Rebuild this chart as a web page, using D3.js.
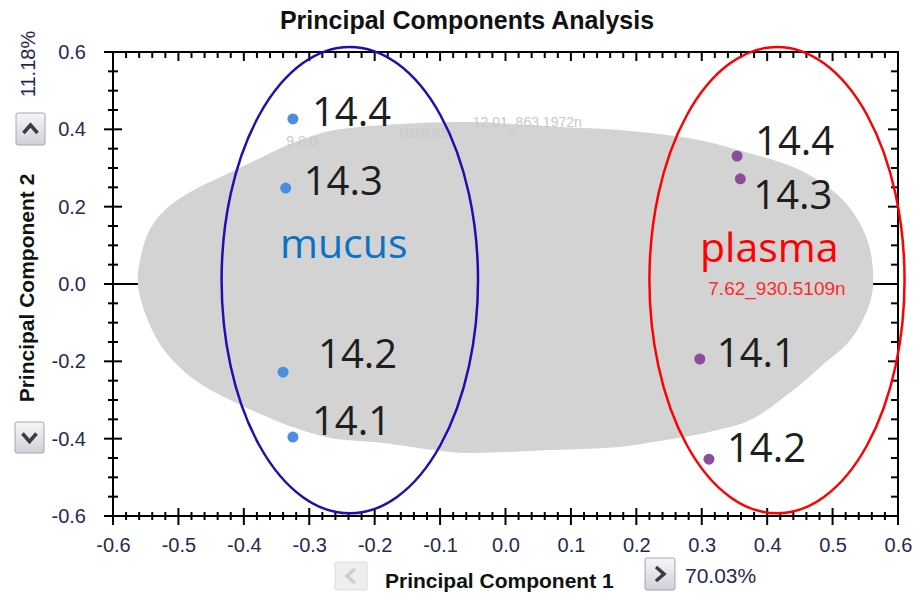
<!DOCTYPE html>
<html>
<head>
<meta charset="utf-8">
<script src="https://cdn.jsdelivr.net/npm/d3@7"></script>
<style>
    body { margin: 0; background: #fff; }
    svg { display: block; font-family: "Liberation Sans", Arial, sans-serif; }
</style>
</head>
<body>
<svg id="chart" width="914" height="596"></svg>
<script>
// sample scores (PC1, PC2)
const mucusLabels = ['14.4', '14.3', '14.2', '14.1'];
const mucusPC1 = [-0.325, -0.336, -0.340, -0.325];
const mucusPC2 = [0.427, 0.248, -0.228, -0.396];

const plasmaLabels = ['14.4', '14.3', '14.1', '14.2'];
const plasmaPC1 = [0.354, 0.359, 0.297, 0.311];
const plasmaPC2 = [0.331, 0.272, -0.194, -0.453];

// outline of the grey cloud of loadings (PC1, PC2)
const cloudPC1 = [-0.562, -0.557, -0.544, -0.521, -0.482, -0.429, -0.375, -0.322, -0.268, -0.161,
    -0.054, 0.083, 0.175, 0.297, 0.354, 0.450, 0.516, 0.553, 0.562, 0.553, 0.527, 0.481, 0.440,
    0.374, 0.323, 0.247, 0.170, 0.068, -0.059, -0.111, -0.187, -0.268, -0.322, -0.375, -0.417,
    -0.456, -0.490, -0.524, -0.547];
const cloudPC2 = [0.000, 0.075, 0.140, 0.191, 0.238, 0.282, 0.326, 0.367, 0.396, 0.414,
    0.419, 0.406, 0.398, 0.372, 0.347, 0.295, 0.217, 0.114, 0.000, -0.067, -0.145, -0.215, -0.274,
    -0.352, -0.378, -0.403, -0.422, -0.429, -0.437, -0.429, -0.411, -0.398, -0.372, -0.336, -0.303,
    -0.269, -0.228, -0.166, -0.093];

// group ellipses: centre and radii in PC units
const groupNames = ['mucus', 'plasma'];
const groupCX = [-0.238, 0.415];
const groupCY = [0.010, 0.010];
const groupRX = [0.196, 0.195];
const groupRY = [0.603, 0.603];

const xTicks = [-0.6, -0.5, -0.4, -0.3, -0.2, -0.1, 0.0, 0.1, 0.2, 0.3, 0.4, 0.5, 0.6];
const yTicks = [-0.6, -0.4, -0.2, 0.0, 0.2, 0.4, 0.6];
const pc1Var = '70.03%';
const pc2Var = '11.18%';

const svg = d3.select('#chart');
const x = d3.scaleLinear().domain([-0.6, 0.6]).range([113, 898]);
const y = d3.scaleLinear().domain([-0.6, 0.6]).range([516, 52]);
const fmt = d => d.toFixed(1);

// zero line (under the cloud)
svg.append('line')
    .attr('x1', x(-0.6)).attr('x2', x(0.6))
    .attr('y1', y(0)).attr('y2', y(0))
    .attr('stroke', '#000').attr('stroke-width', 2);

// cloud
const cloud = cloudPC1.map((d, i) => [d, cloudPC2[i]]);
svg.append('path')
    .attr('d', d3.line().x(d => x(d[0])).y(d => y(d[1])).curve(d3.curveCatmullRomClosed)(cloud))
    .attr('fill', '#d3d3d3');

// faint loading labels along the top of the cloud
const faint = [['12.01_863.1972n', -0.05, 0.405], ['1028.85', -0.165, 0.378], ['9.8.0', -0.335, 0.356]];
svg.selectAll('text.faint')
    .data(faint)
    .enter().append('text')
    .attr('class', 'faint')
    .attr('x', d => x(d[1])).attr('y', d => y(d[2]))
    .attr('fill', '#c9c9c9').attr('font-size', 14)
    .text(d => d[0]);

// frame
svg.append('rect')
    .attr('x', x(-0.6)).attr('y', y(0.6))
    .attr('width', x(0.6) - x(-0.6)).attr('height', y(-0.6) - y(0.6))
    .attr('fill', 'none').attr('stroke', '#000').attr('stroke-width', 2);

const xMinor = d3.range(-60, 61, 2).map(d => d / 100);
const yMinor = d3.range(-60, 61, 5).map(d => d / 100);
const isMajorX = v => Math.abs(Math.round(v * 100)) % 10 === 0;
const isMajorY = v => Math.abs(Math.round(v * 100)) % 20 === 0;

// bottom axis ticks cross the line, top ticks point inward
svg.append('g').selectAll('line')
    .data(xMinor).enter().append('line')
    .attr('x1', d => x(d)).attr('x2', d => x(d))
    .attr('y1', d => y(-0.6) - (isMajorX(d) ? 8 : 4))
    .attr('y2', d => y(-0.6) + (isMajorX(d) ? 9 : 4))
    .attr('stroke', '#000').attr('stroke-width', 2);
svg.append('g').selectAll('line')
    .data(xMinor).enter().append('line')
    .attr('x1', d => x(d)).attr('x2', d => x(d))
    .attr('y1', y(0.6))
    .attr('y2', d => y(0.6) + (isMajorX(d) ? 9 : 6))
    .attr('stroke', '#000').attr('stroke-width', 2);

// left axis ticks cross the line, right ticks point inward
svg.append('g').selectAll('line')
    .data(yMinor).enter().append('line')
    .attr('y1', d => y(d)).attr('y2', d => y(d))
    .attr('x1', d => x(-0.6) - (isMajorY(d) ? 9 : 5))
    .attr('x2', d => x(-0.6) + (isMajorY(d) ? 9 : 5))
    .attr('stroke', '#000').attr('stroke-width', 2);
svg.append('g').selectAll('line')
    .data(yMinor).enter().append('line')
    .attr('y1', d => y(d)).attr('y2', d => y(d))
    .attr('x1', x(0.6))
    .attr('x2', d => x(0.6) - (isMajorY(d) ? 10 : 7))
    .attr('stroke', '#000').attr('stroke-width', 2);

// tick labels through d3 axes
const xAxis = svg.append('g')
    .attr('transform', `translate(0,${y(-0.6)})`)
    .call(d3.axisBottom(x).tickValues(xTicks).tickFormat(fmt).tickSize(0).tickPadding(22));
const yAxis = svg.append('g')
    .attr('transform', `translate(${x(-0.6)},0)`)
    .call(d3.axisLeft(y).tickValues(yTicks).tickFormat(fmt).tickSize(0).tickPadding(27));
[xAxis, yAxis].forEach(g => {
    g.select('.domain').remove();
    g.selectAll('text')
        .attr('font-family', '"Liberation Sans", Arial, sans-serif')
        .attr('font-size', 20).attr('fill', '#1f2a55');
});

// titles
svg.append('text')
    .attr('x', 467).attr('y', 29).attr('text-anchor', 'middle')
    .attr('font-size', 25).attr('font-weight', 'bold').attr('fill', '#111')
    .text('Principal Components Analysis');
svg.append('text')
    .attr('x', 385).attr('y', 588)
    .attr('font-size', 21).attr('font-weight', 'bold').attr('fill', '#111')
    .text('Principal Component 1');
svg.append('text')
    .attr('x', 685).attr('y', 583)
    .attr('font-size', 21).attr('fill', '#1f2a55')
    .text(pc1Var);
svg.append('text')
    .attr('transform', 'translate(34,288) rotate(-90)').attr('text-anchor', 'middle')
    .attr('font-size', 21).attr('font-weight', 'bold').attr('fill', '#111')
    .text('Principal Component 2');
svg.append('text')
    .attr('transform', 'translate(35,64) rotate(-90)').attr('text-anchor', 'middle')
    .attr('font-size', 20).attr('fill', '#1f2a55')
    .text(pc2Var);

// scroll buttons
const defs = svg.append('defs');
const grad = defs.append('linearGradient').attr('id', 'btn').attr('x1', 0).attr('x2', 0).attr('y1', 0).attr('y2', 1);
grad.append('stop').attr('offset', 0).attr('stop-color', '#f6f6f8');
grad.append('stop').attr('offset', 1).attr('stop-color', '#cfd1da');
const buttons = [
    { x: 16, y: 113, w: 29, h: 32, dir: 'up', on: true },
    { x: 15, y: 422, w: 29, h: 31, dir: 'down', on: true },
    { x: 335, y: 562, w: 32, h: 28, dir: 'left', on: false },
    { x: 645, y: 558, w: 30, h: 32, dir: 'right', on: true }
];
const chevrons = {
    up: 'M-7,4 L0,-4 L7,4',
    down: 'M-7,-4 L0,4 L7,-4',
    left: 'M4,-7 L-4,0 L4,7',
    right: 'M-4,-7 L4,0 L-4,7'
};
buttons.forEach(b => {
    svg.append('rect')
        .attr('x', b.x).attr('y', b.y).attr('width', b.w).attr('height', b.h).attr('rx', 2)
        .attr('fill', b.on ? 'url(#btn)' : '#eeeeec')
        .attr('stroke', b.on ? '#a4a6b0' : '#dcdcd8');
    svg.append('path')
        .attr('transform', `translate(${b.x + b.w / 2},${b.y + b.h / 2})`)
        .attr('d', chevrons[b.dir])
        .attr('fill', 'none')
        .attr('stroke', b.on ? '#3c3c3c' : '#cfcfcb')
        .attr('stroke-width', 3.5);
});

// red loading label
svg.append('text')
    .attr('x', x(0.310)).attr('y', y(-0.028))
    .attr('font-size', 19).attr('fill', '#ff2a2a')
    .text('7.62_930.5109n');

// group ellipses
const ellColors = ['#1e0fb0', '#ff0000'];
groupNames.forEach((g, i) => {
    svg.append('ellipse')
        .attr('cx', x(groupCX[i])).attr('cy', y(groupCY[i]))
        .attr('rx', x(groupCX[i] + groupRX[i]) - x(groupCX[i]))
        .attr('ry', y(groupCY[i] - groupRY[i]) - y(groupCY[i]))
        .attr('fill', 'none').attr('stroke', ellColors[i]).attr('stroke-width', 2.5);
});

// sample points
function drawGroup(labels, pc1, pc2, color, offsets) {
    const data = labels.map((l, i) => ({ label: l, pc1: pc1[i], pc2: pc2[i], off: offsets[i] }));
    svg.append('g').selectAll('circle')
        .data(data).enter().append('circle')
        .attr('cx', d => x(d.pc1)).attr('cy', d => y(d.pc2))
        .attr('r', 5.5).attr('fill', color);
    svg.append('g').selectAll('text')
        .data(data).enter().append('text')
        .attr('x', d => x(d.pc1) + d.off[0]).attr('y', d => y(d.pc2) + d.off[1])
        .attr('font-family', '"Open Sans", sans-serif')
        .attr('font-size', 40).attr('fill', '#1e1e1e')
        .text(d => d.label);
}
drawGroup(mucusLabels, mucusPC1, mucusPC2, '#4a8fdf', [[19, 7], [18, 7], [35, -4], [19, -2]]);
drawGroup(plasmaLabels, plasmaPC1, plasmaPC2, '#8a4d9c', [[18, -1], [13, 30], [17, 8], [18, 3]]);

// group names
svg.append('text')
    .attr('x', 280).attr('y', 258)
    .attr('font-family', '"Open Sans", sans-serif').attr('font-size', 41)
    .attr('fill', '#0a72c4').text(groupNames[0]);
svg.append('text')
    .attr('x', 700).attr('y', 262)
    .attr('font-family', '"Open Sans", sans-serif').attr('font-size', 41)
    .attr('fill', '#ff0000').text(groupNames[1]);
</script>
</body>
</html>
